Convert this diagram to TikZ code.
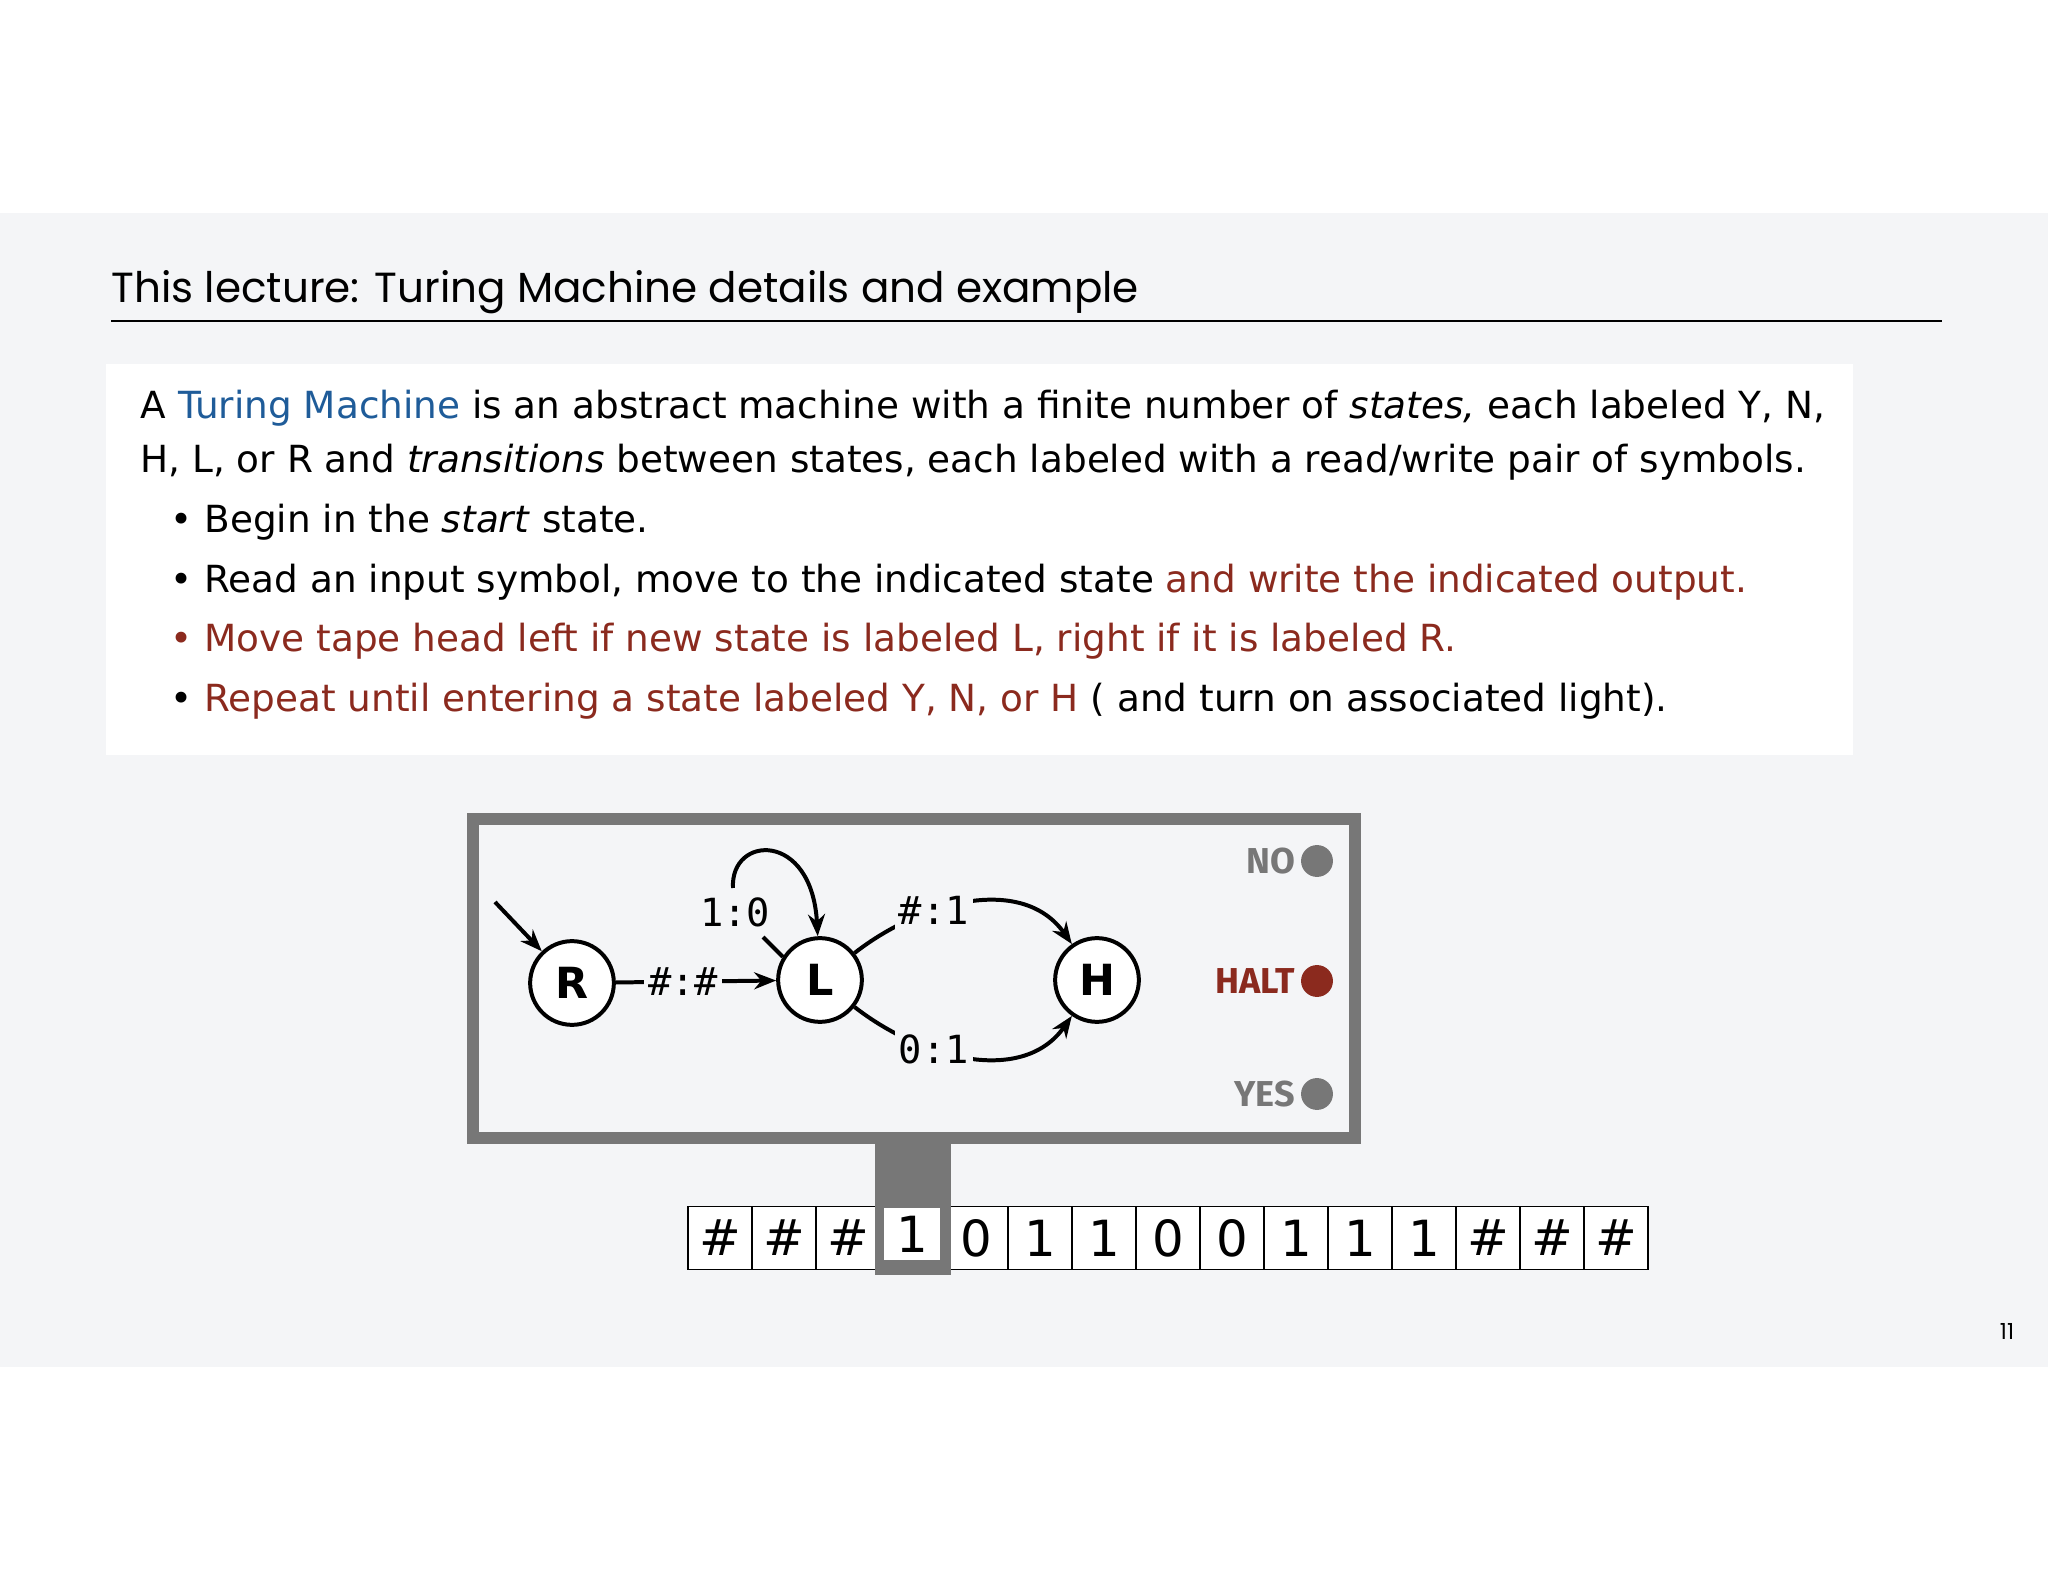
\documentclass[tikz,border=0pt]{standalone}
\usepackage{fontspec}
\setmainfont{DejaVu Sans}
\newfontfamily\titlefont{Poppins}
\newfontfamily\monofont{DejaVu Sans Mono}
\newfontfamily\lightfont{Fira Sans}
\usetikzlibrary{arrows.meta}
\definecolor{bgc}{HTML}{F4F5F7}
\definecolor{tblue}{HTML}{1F5C99}
\definecolor{tred}{HTML}{8B2A1E}
\definecolor{frame}{HTML}{777777}
\tikzset{
  txt/.style={anchor=base west,inner sep=0pt,font=\fontsize{13.5}{15}\selectfont},
  state/.style={circle,draw,line width=4*0.36pt,fill=white,minimum size=84*0.36pt,inner sep=0pt,font=\fontsize{15.5}{16}\selectfont\bfseries},
  elabel/.style={fill=bgc,inner sep=1.5pt,font=\monofont\fontsize{14}{15}\selectfont},
  edge/.style={line width=4*0.36pt,-{Stealth[length=22*0.36pt,width=17*0.36pt]}},
  plain/.style={line width=4*0.36pt},
  cell/.style={draw,line width=0.6pt,fill=white,minimum width=64*0.36pt,minimum height=63*0.36pt,inner sep=0pt,font=\fontsize{18}{19}\selectfont},
  lamp/.style={circle,fill=#1,minimum size=32*0.36pt,inner sep=0pt},
  lamplabel/.style={anchor=east,inner sep=0pt,font=\lightfont\fontsize{13}{14}\selectfont\bfseries}
}
\begin{document}
\begin{tikzpicture}[x=0.0127cm,y=-0.0127cm]
\useasboundingbox (0,0) rectangle (2048,1582);
\fill[white] (0,0) rectangle (2048,1582);
\fill[bgc] (0,213) rectangle (2048,1367);
% title
\node[anchor=base west,inner sep=0pt,font=\titlefont\fontsize{15.2}{16}\selectfont] (title) at (111,303) {This lecture: Turing Machine details and example};
\draw[line width=0.5pt] (111,321) -- (1942,321);
% text box
\fill[white] (106,364) rectangle (1853,755);
\node[txt] (l1) at (140,419) {A {\color{tblue}Turing Machine} is an abstract machine with a finite number of \textit{states,} each labeled Y, N,};
\node[txt] (l2) at (140,473) {H, L, or R and \textit{transitions} between states, each labeled with a read/write pair of symbols.};
\node[txt] (b1) at (170,533) {\textbullet\ Begin in the \textit{start} state.};
\node[txt] (b2) at (170,593) {\textbullet\ Read an input symbol, move to the indicated state {\color{tred}and write the indicated output.}};
\node[txt,text=tred] (b3) at (170,652) {\textbullet\ Move tape head left if new state is labeled L, right if it is labeled R.};
\node[txt] (b4) at (170,712) {\textbullet\ {\color{tred}Repeat until entering a state labeled Y, N, or H} ( and turn on associated light).};
% tape
\foreach \s [count=\i from 0] in {\#,\#,\#,1,0,1,1,0,0,1,1,1,\#,\#,\#}
  \node[cell] (c\i) at (720+\i*64,1238) {\s};
% monitor
\draw[frame,line width=13*0.36pt] (473,819) rectangle (1355,1138);
\fill[frame] (875,1144) rectangle (951,1275);
\node[cell,draw=none,minimum width=56*0.36pt,minimum height=53*0.36pt] (head) at (912,1234) {1};
% states
\node[state] (R) at (572,983) {R};
\node[state] (L) at (820,980) {L};
\node[state] (H) at (1097,980) {H};
\coordinate (start) at (495,902);
\draw[edge] (start) -- (R);
\draw[edge] (R) -- node[elabel,pos=0.42]{\#:\#} (L);
\draw[edge] (L) to[out=38,in=125] node[elabel,pos=0.35]{\#:1} (H);
\draw[edge] (L) to[out=-38,in=-125] node[elabel,pos=0.35]{0:1} (H);
\node[elabel,fill=none] (loopl) at (735,912) {1:0};
\coordinate (lstub) at (763,937);
\coordinate (lstart) at (733,888);
\draw[plain] (L.148) -- (lstub);
\draw[edge] (lstart) .. controls (730,835) and (812,830) .. (L.93);
% lamps
\node[lamp=frame] (no) at (1317,861) {};
\node[lamp=tred] (halt) at (1317,981) {};
\node[lamp=frame] (yes) at (1317,1094) {};
\node[lamplabel,text=frame] at ([xshift=-5*0.36pt]no.west) {NO};
\node[lamplabel,text=tred] at ([xshift=-5*0.36pt]halt.west) {HALT};
\node[lamplabel,text=frame] at ([xshift=-5*0.36pt]yes.west) {YES};
\node[font=\titlefont\fontsize{8}{9}\selectfont] (pg) at (2007,1331) {11};
\end{tikzpicture}
\end{document}
